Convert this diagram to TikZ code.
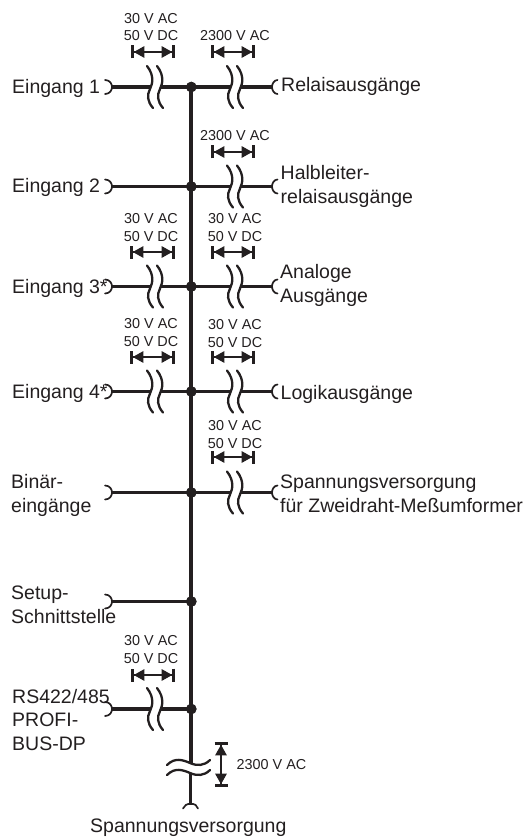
\documentclass[tikz,border=0pt]{standalone}
\usepackage{fontspec}
\setmainfont{Liberation Sans}
\usetikzlibrary{arrows.meta}
\definecolor{ink}{HTML}{231F20}
\tikzset{
  wire/.style={line width=3.4pt,color=ink},
  spine/.style={line width=4pt,color=ink},
  thinwire/.style={line width=3pt,color=ink},
  gapline/.style={line width=2.3pt,color=ink,line cap=round},
  terminal/.style={line width=1.7pt,color=ink,line cap=round},
  dimline/.style={line width=1.2pt,color=ink,{Bar[width=13pt,line width=2.8pt]Triangle[length=10.5pt,width=11.5pt]}-{Triangle[length=10.5pt,width=11.5pt]Bar[width=13pt,line width=2.8pt]}},
  junction/.style={circle,fill=ink,inner sep=0pt,minimum size=10.5pt},
  big/.style={inner sep=0pt,anchor=base west,align=left,text=ink,font=\fontsize{19.5pt}{23.5pt}\selectfont},
  small/.style={inner sep=0pt,anchor=base,align=center,text=ink,font=\fontsize{14.4pt}{17.8pt}\selectfont},
}
% vertical "S" stroke around column #1, row #2
\newcommand\sstroke[2]{\draw[gapline] (#1-3,#2-21) .. controls (#1+4,#2-12) and (#1+3,#2-4) .. (#1,#2+2) .. controls (#1-3,#2+8) and (#1-3,#2+14) .. (#1+3,#2+21);}
% left input: name, row y
\newcommand\inrow[2]{%
  \coordinate (#1t) at (112,#2);
  \node[junction] (#1j) at (191.3,#2) {};
  \draw[terminal] (105,#2-7) .. controls (110,#2-7) and (112,#2-3) .. (#1t) .. controls (112,#2+3) and (110,#2+7) .. (105,#2+7);
}
\newcommand\ingap[2]{%
  \coordinate (#1a) at (150,#2);
  \coordinate (#1b) at (160,#2);
  \draw[wire] (#1t) -- (#1a);
  \draw[wire] (#1b) -- (#1j.center);
  \sstroke{150}{#2}\sstroke{160}{#2}
}
% right output: name, row y
\newcommand\outrow[2]{%
  \coordinate (#1r) at (272,#2);
  \coordinate (#1c) at (230,#2);
  \coordinate (#1d) at (240,#2);
  \draw[wire] (#1j.center) -- (#1c);
  \draw[wire] (#1d) -- (#1r);
  \sstroke{230}{#2}\sstroke{240}{#2}
  \draw[terminal] (277.5,#2-7) .. controls (274,#2-7) and (272,#2-3) .. (#1r) .. controls (272,#2+3) and (274,#2+7) .. (277.5,#2+7);
}
% dimension arrow: name, x1, x2, y
\newcommand\dimh[4]{%
  \coordinate (#1a) at (#2,#4);
  \coordinate (#1b) at (#3,#4);
  \draw[dimline] (#1a) -- (#1b);
}
\begin{document}
\begin{tikzpicture}[x=1pt,y=-1pt]
\useasboundingbox (0,0) rectangle (531,837);

% rows
\inrow{A}{87}
\inrow{B}{186.5}
\inrow{C}{286.5}
\inrow{D}{391.5}
\inrow{E}{492.5}
\inrow{F}{601.5}
\inrow{G}{709}

% spine and break
\coordinate (breakT) at (191.3,763);
\coordinate (breakB) at (190.7,773);
\coordinate (powerT) at (190.7,804);
\draw[spine] (Aj.center) -- (breakT);
\draw[thinwire] (breakB) -- (powerT);
\draw[terminal] (183,808.5) .. controls (184,805.5) and (187,803.5) .. (powerT) .. controls (194.5,803.5) and (197.5,805.5) .. (198,808.5);
\draw[gapline] (167,765) .. controls (175,757) and (183,760) .. (190,763) .. controls (197,766) and (204,766) .. (210,760);
\draw[gapline] (167,775) .. controls (175,767) and (183,770) .. (190,773) .. controls (197,776) and (204,776) .. (210,770);

% left branches
\ingap{A}{87}
\draw[wire] (Bt) -- (Bj.center);
\ingap{C}{286.5}
\ingap{D}{391.5}
\draw[wire] (Et) -- (Ej.center);
\draw[wire] (Ft) -- (Fj.center);
\ingap{G}{709}

% right branches
\outrow{A}{87}
\outrow{B}{186.5}
\outrow{C}{286.5}
\outrow{D}{391.5}
\outrow{E}{492.5}

% junction dots on top
\node[junction] at (Aj) {};
\node[junction] at (Bj) {};
\node[junction] at (Cj) {};
\node[junction] at (Dj) {};
\node[junction] at (Ej) {};
\node[junction] at (Fj) {};
\node[junction] at (Gj) {};

% dimension arrows
\dimh{dA1}{131}{175}{52}
\dimh{dA2}{211}{255}{52}
\dimh{dB2}{211}{255}{152}
\dimh{dC1}{130}{175}{252}
\dimh{dC2}{211}{255}{252}
\dimh{dD1}{130}{175}{357}
\dimh{dD2}{211}{255}{357}
\dimh{dE2}{211}{255}{457}
\dimh{dG1}{131}{175}{675}
\coordinate (dPa) at (221,742);
\coordinate (dPb) at (221,787);
\draw[dimline] (dPa) -- (dPb);

% small labels
\node[small] (lA1) at (151,41) {30 V AC\\50 V DC};
\node[small] (lA2) at (235,41) {2300 V AC};
\node[small] (lB2) at (235,141) {2300 V AC};
\node[small] (lC1) at (151,241) {30 V AC\\50 V DC};
\node[small] (lC2) at (235,241) {30 V AC\\50 V DC};
\node[small] (lD1) at (151,346) {30 V AC\\50 V DC};
\node[small] (lD2) at (235,347) {30 V AC\\50 V DC};
\node[small] (lE2) at (235,448) {30 V AC\\50 V DC};
\node[small] (lG1) at (151,663) {30 V AC\\50 V DC};
\node[small,anchor=base west] (lP) at (236.5,769) {2300 V AC};

% left labels
\node[big] (tA) at (12,93.5) {Eingang 1};
\node[big] (tB) at (12,193) {Eingang 2};
\node[big] (tC) at (12,293) {Eingang 3*};
\node[big] (tD) at (12,398) {Eingang 4*};
\node[big] (tE) at (11,512) {Binär-\\eingänge};
\node[big] (tF) at (11,623) {Setup-\\Schnittstelle};
\node[big] (tG) at (12,750) {RS422/485\\PROFI-\\BUS-DP};

% right labels
\node[big] (oA) at (281,92) {Relaisausgänge};
\node[big] (oB) at (280.5,203) {Halbleiter-\\relaisausgänge};
\node[big] (oC) at (280,302) {Analoge\\Ausgänge};
\node[big] (oD) at (280.5,399) {Logikausgänge};
\node[big] (oE) at (280,512) {Spannungsversorgung\\für Zweidraht-Meßumformer};

% bottom label
\node[big] (tP) at (90,832) {Spannungsversorgung};
\end{tikzpicture}
\end{document}
